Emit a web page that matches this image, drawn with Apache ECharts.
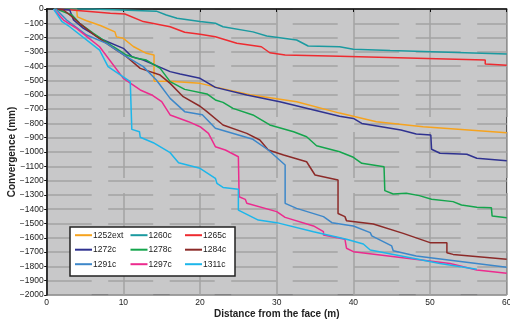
<!DOCTYPE html>
<html>
<head>
<meta charset="utf-8">
<script src="https://cdn.jsdelivr.net/npm/echarts@6/dist/echarts.min.js"></script>
<style>html,body{margin:0;padding:0;background:#fff}#c{width:510px;height:322px}</style>
</head>
<body>
<div id="c"></div>
<script>
var xTicks = [0, 10, 20, 30, 40, 50, 60];
var seriesNames = ['1252ext', '1260c', '1265c', '1272c', '1278c', '1284c', '1291c', '1297c', '1311c'];
var d1252ext = [[1,0],[3.9,0],[4,-55],[5.2,-82],[7,-115],[8.9,-160],[9.1,-195],[10,-205],[11.3,-262],[13,-310],[14,-322],[14,-505],[15.2,-505],[16,-505],[20,-520],[22.2,-548],[26.5,-600],[32.6,-648],[38.2,-728],[43,-788],[49.1,-823],[60,-865]];
var d1260c = [[1,0],[6,0],[14.3,-15],[15.6,-42],[17,-65],[20,-88],[22,-100],[23,-124],[26.9,-160],[28.7,-189],[32.6,-217],[34.1,-259],[38.2,-264],[40,-282],[44.8,-291],[60,-315]];
var d1265c = [[1.7,0],[8.3,-30],[10.2,-35],[12.6,-88],[16.1,-124],[18,-163],[20,-177],[22,-194],[24.8,-240],[28,-264],[29.1,-306],[31.1,-322],[38.2,-330],[57.2,-357],[57.2,-385],[60,-394]];
var d1272c = [[1.2,0],[3,-7],[3.5,-77],[4.8,-135],[7.4,-217],[10,-275],[11.1,-333],[12.6,-357],[16.1,-438],[17.4,-455],[20,-485],[22,-548],[26.1,-601],[30.4,-648],[38.2,-750],[40,-765],[41.1,-800],[46.2,-846],[48.2,-874],[50.1,-881],[50.2,-981],[51.3,-1009],[54.8,-1016],[56.1,-1044],[60,-1061]];
var d1278c = [[1.3,0],[2.2,-19],[3.3,-42],[4.3,-100],[6.1,-170],[8.7,-264],[10.4,-322],[11.7,-345],[13,-357],[14.8,-415],[16.1,-508],[18,-562],[20.9,-594],[22,-636],[23,-653],[24.3,-695],[26.9,-741],[29.1,-811],[32.2,-858],[33.9,-893],[35.2,-956],[38.2,-998],[40,-1037],[41.1,-1079],[44,-1103],[44.1,-1270],[45.2,-1294],[46.9,-1289],[48.6,-1305],[50.2,-1331],[53,-1347],[54.1,-1371],[56.1,-1387],[58,-1389],[58.1,-1448],[60,-1459]];
var d1284c = [[1.3,0],[2.2,-7],[3.3,-54],[4.3,-100],[6.5,-194],[9.1,-287],[10.4,-333],[12.2,-415],[14.8,-462],[16.1,-520],[17.8,-613],[20,-680],[20.9,-718],[23,-811],[26.1,-870],[27.8,-916],[28.9,-986],[30.9,-1021],[33.9,-1068],[35,-1161],[38,-1196],[38,-1430],[38.9,-1452],[39.1,-1480],[42.6,-1503],[46.5,-1569],[50,-1634],[52.2,-1634],[52.2,-1704],[53,-1716],[60,-1750]];
var d1291c = [[1.2,0],[2.6,-77],[5.2,-182],[7.8,-240],[10.4,-333],[12.6,-403],[14.3,-497],[16.1,-625],[18,-718],[20.3,-740],[22,-834],[26.9,-911],[28.9,-986],[31.1,-1091],[31.1,-1359],[32.6,-1394],[36.1,-1452],[37.2,-1494],[40,-1517],[42.2,-1564],[42.4,-1587],[45,-1657],[45.2,-1690],[48.2,-1727],[60,-1806]];
var d1297c = [[0.9,0],[2.2,-77],[3.9,-135],[6.9,-264],[10,-485],[12.2,-566],[13.7,-601],[15,-648],[16.1,-741],[18.5,-788],[20,-823],[21.1,-870],[22,-963],[23.3,-986],[25,-1033],[25.1,-1313],[25.9,-1331],[26.1,-1359],[30,-1417],[31.1,-1457],[34.8,-1517],[36.1,-1557],[36.1,-1580],[38.9,-1610],[39.1,-1673],[40,-1697],[52.6,-1779],[56.1,-1825],[60,-1848]];
var d1311c = [[0.9,0],[2,-89],[3,-124],[6.9,-287],[8,-403],[10.9,-508],[11.1,-842],[12.1,-858],[12.2,-897],[13.9,-935],[16.1,-1005],[17.2,-1075],[20,-1114],[22,-1184],[22.2,-1219],[23,-1248],[25,-1261],[25,-1406],[27.6,-1476],[30,-1494],[34.8,-1557],[39.1,-1610],[41.3,-1643],[42.2,-1685],[51.3,-1779],[56.1,-1820]];
var seriesData = [d1252ext, d1260c, d1265c, d1272c, d1278c, d1284c, d1291c, d1297c, d1311c];
var colors = ['#f6a31e', '#1b9aa0', '#ee2b30', '#2f3290', '#14a54c', '#8c2a28', '#3d87c9', '#ec2b8e', '#1db6ea'];

var chart = echarts.init(document.getElementById('c'), null, {renderer: 'canvas'});
var font = 'Liberation Sans, Arial, sans-serif';
var series = seriesNames.map(function (n, i) {
  return {
    name: n, type: 'line', data: seriesData[i], symbol: 'none', showSymbol: false,
    lineStyle: {width: 1.5, color: colors[i]}, itemStyle: {color: colors[i]},
    animation: false, z: 2
  };
});
function legendCol(left, names) {
  return {
    orient: 'vertical', left: left, top: 230.7, padding: 0, itemGap: 5.5,
    itemWidth: 17, itemHeight: 10, data: names, selectedMode: false,
    icon: 'path://M0,0 L17,0 L17,2 L0,2 Z',
    textStyle: {fontFamily: font, fontSize: 8.5, color: '#222', padding: [0, 0, 0, -4]}, z: 5
  };
}
chart.setOption({
  animation: false,
  backgroundColor: '#fff',
  color: colors,
  grid: {left: 46.7, right: 3.3, top: 9, bottom: 27, containLabel: false, outerBoundsMode: 'none', show: true, backgroundColor: '#c8c8c9', borderColor: '#3a3a3a', borderWidth: 1},
  graphic: [{type: 'rect', z: 4, shape: {x: 70, y: 227, width: 165, height: 49}, style: {fill: '#fff', stroke: '#222', lineWidth: 1.5}}],
  legend: [
    legendCol(75, [seriesNames[0], seriesNames[3], seriesNames[6]]),
    legendCol(130.5, [seriesNames[1], seriesNames[4], seriesNames[7]]),
    legendCol(185, [seriesNames[2], seriesNames[5], seriesNames[8]])
  ],
  xAxis: {
    type: 'value', min: xTicks[0], max: xTicks[xTicks.length - 1], interval: 10,
    name: 'Distance from the face (m)', nameLocation: 'middle', nameGap: 14.5, nameMoveOverlap: false,
    nameTextStyle: {fontFamily: font, fontSize: 10, fontWeight: 'bold', color: '#222'},
    axisLine: {lineStyle: {color: '#111', width: 1.5}},
    axisTick: {show: true, length: 3, lineStyle: {color: '#111'}},
    axisLabel: {fontFamily: font, fontSize: 8.5, color: '#222', margin: 3},
    splitLine: {show: true, lineStyle: {color: '#a2a2a3', width: 1.5, type: [108, 15, 46, 15, 102, 15]}}
  },
  yAxis: {
    type: 'value', min: -2000, max: 0, interval: 100,
    name: 'Convergence (mm)', nameLocation: 'middle', nameGap: 29, nameMoveOverlap: false,
    nameTextStyle: {fontFamily: font, fontSize: 10, fontWeight: 'bold', color: '#222'},
    axisLine: {show: true, lineStyle: {color: '#111', width: 1.5}},
    axisTick: {show: true, length: 2.5, lineStyle: {color: '#111'}},
    axisLabel: {fontFamily: font, fontSize: 8.5, color: '#222', margin: 3,
      formatter: function (v) { return v < 0 ? '\u2212' + Math.abs(v) : String(v); }},
    splitLine: {show: true, lineStyle: {color: '#a2a2a3', width: 1.5, type: [45, 16.5]}}
  },
  series: series
});
</script>
</body>
</html>
